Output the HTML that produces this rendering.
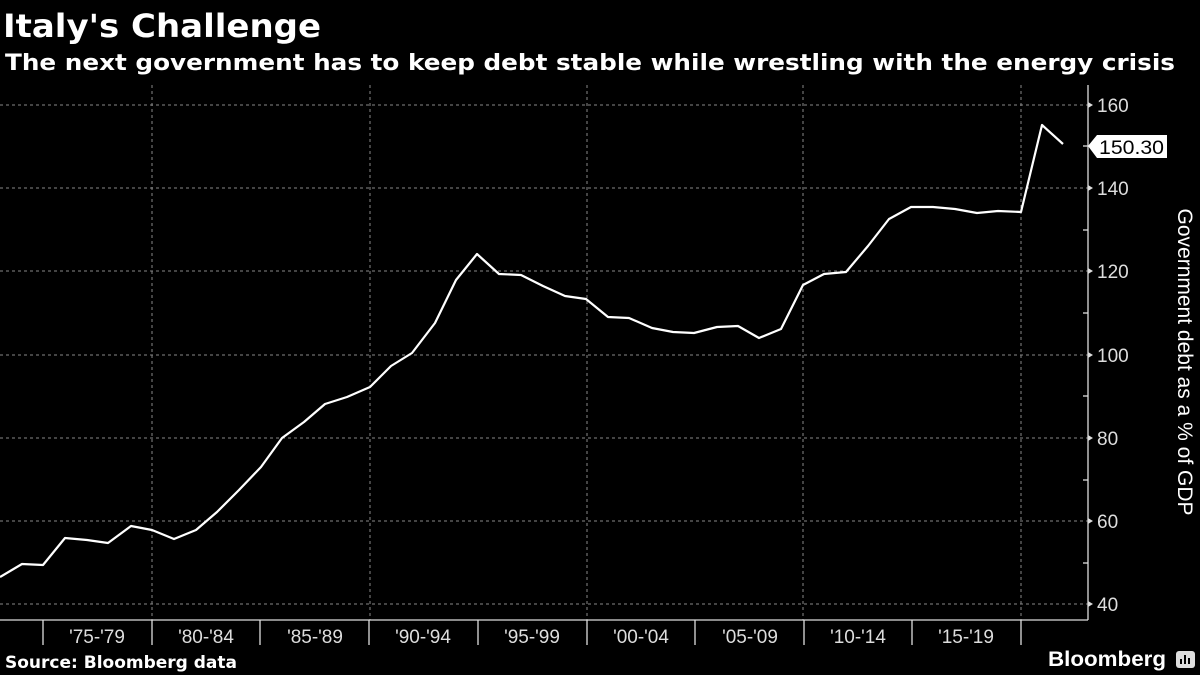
<!DOCTYPE html>
<html><head><meta charset="utf-8"><style>
html,body{margin:0;padding:0;background:#000;}
svg{display:block;}
</style></head><body>
<svg width="1200" height="675" viewBox="0 0 1200 675" xmlns="http://www.w3.org/2000/svg" font-family="'DejaVu Sans','Liberation Sans',sans-serif">
<rect width="1200" height="675" fill="#000"/>
<text x="3" y="37" fill="#fff" font-size="32" font-weight="bold" textLength="318" lengthAdjust="spacingAndGlyphs">Italy's Challenge</text>
<text x="5" y="70" fill="#fff" font-size="22" font-weight="bold" textLength="1170" lengthAdjust="spacingAndGlyphs">The next government has to keep debt stable while wrestling with the energy crisis</text>
<g stroke="#888" stroke-width="1" stroke-dasharray="3,3">
<line x1="0" y1="105" x2="1088" y2="105"/>
<line x1="0" y1="188" x2="1088" y2="188"/>
<line x1="0" y1="271" x2="1088" y2="271"/>
<line x1="0" y1="355" x2="1088" y2="355"/>
<line x1="0" y1="438" x2="1088" y2="438"/>
<line x1="0" y1="521" x2="1088" y2="521"/>
<line x1="0" y1="604" x2="1088" y2="604"/>
<line x1="152" y1="85" x2="152" y2="620"/>
<line x1="370" y1="85" x2="370" y2="620"/>
<line x1="587" y1="85" x2="587" y2="620"/>
<line x1="803" y1="85" x2="803" y2="620"/>
<line x1="1021" y1="85" x2="1021" y2="620"/>
</g>
<g stroke="#ddd" stroke-width="1.3">
<line x1="0" y1="620" x2="1088" y2="620"/>
<line x1="1088" y1="85" x2="1088" y2="620"/>
<line x1="43" y1="620" x2="43" y2="645"/>
<line x1="152" y1="620" x2="152" y2="645"/>
<line x1="260" y1="620" x2="260" y2="645"/>
<line x1="369" y1="620" x2="369" y2="645"/>
<line x1="478" y1="620" x2="478" y2="645"/>
<line x1="587" y1="620" x2="587" y2="645"/>
<line x1="695" y1="620" x2="695" y2="645"/>
<line x1="804" y1="620" x2="804" y2="645"/>
<line x1="912" y1="620" x2="912" y2="645"/>
<line x1="1021" y1="620" x2="1021" y2="645"/>
<line x1="1083" y1="146" x2="1088" y2="146"/>
<line x1="1083" y1="230" x2="1088" y2="230"/>
<line x1="1083" y1="313" x2="1088" y2="313"/>
<line x1="1083" y1="396" x2="1088" y2="396"/>
<line x1="1083" y1="480" x2="1088" y2="480"/>
<line x1="1083" y1="563" x2="1088" y2="563"/>
</g>
<g fill="#ddd">
<path d="M1088 102 L1093 105 L1088 108Z"/><path d="M1088 185 L1093 188 L1088 191Z"/>
<path d="M1088 268 L1093 271 L1088 274Z"/><path d="M1088 352 L1093 355 L1088 358Z"/>
<path d="M1088 435 L1093 438 L1088 441Z"/><path d="M1088 518 L1093 521 L1088 524Z"/>
<path d="M1088 601 L1093 604 L1088 607Z"/>
</g>
<g fill="#ddd" font-size="19" font-family="'Liberation Sans',sans-serif">
<text x="1097" y="112">160</text><text x="1097" y="195">140</text><text x="1097" y="278">120</text>
<text x="1097" y="362">100</text><text x="1097" y="445">80</text><text x="1097" y="528">60</text><text x="1097" y="611">40</text>
</g>
<g fill="#ddd" font-size="19" font-family="'Liberation Sans',sans-serif" text-anchor="middle">
<text x="97" y="643">'75-'79</text><text x="206" y="643">'80-'84</text><text x="315" y="643">'85-'89</text>
<text x="423" y="643">'90-'94</text><text x="532" y="643">'95-'99</text><text x="641" y="643">'00-'04</text>
<text x="750" y="643">'05-'09</text><text x="858" y="643">'10-'14</text><text x="966" y="643">'15-'19</text>
</g>
<path d="M1088 146 L1097 135 L1167 135 L1167 158 L1097 158 Z" fill="#fff"/>
<text x="1099" y="154" fill="#000" font-size="19" font-family="'Liberation Sans',sans-serif" textLength="65" lengthAdjust="spacingAndGlyphs">150.30</text>
<text transform="translate(1178,362) rotate(90)" fill="#fff" font-size="21" text-anchor="middle" font-family="'Liberation Sans',sans-serif">Government debt as a % of GDP</text>
<polyline fill="none" stroke="#fff" stroke-width="2.2" stroke-linejoin="round" points="0,577 22,564 43,565 65,538 87,540 108,543 131,526 152,530 174,539 196,530 217,512 239,490 261,467 282,438 304,422 325,404 347,397 370,387 391,366 412,353 435,323 456,280 477,254 499,274 521,275 543,286 565,296 586,299 608,317 629,318 652,328 673,332 694,333 717,327 738,326 759,338 781,329 803,285 824,274 846,272 868,246 889,219 911,207 933,207 955,209 977,213 998,211 1021,212 1042,125 1063,144"/>
<text x="5" y="668" fill="#fff" font-size="17" font-weight="bold">Source: Bloomberg data</text>
<text x="1048" y="666" fill="#fff" font-size="21" font-weight="bold" font-family="'Liberation Sans',sans-serif" textLength="118" lengthAdjust="spacingAndGlyphs">Bloomberg</text>
<rect x="1176" y="651" width="19" height="17" rx="3" fill="#ddd"/>
<g stroke="#000" stroke-width="2"><line x1="1181" y1="664" x2="1181" y2="659"/><line x1="1185" y1="664" x2="1185" y2="655"/><line x1="1189" y1="664" x2="1189" y2="658"/></g>
</svg>
</body></html>
